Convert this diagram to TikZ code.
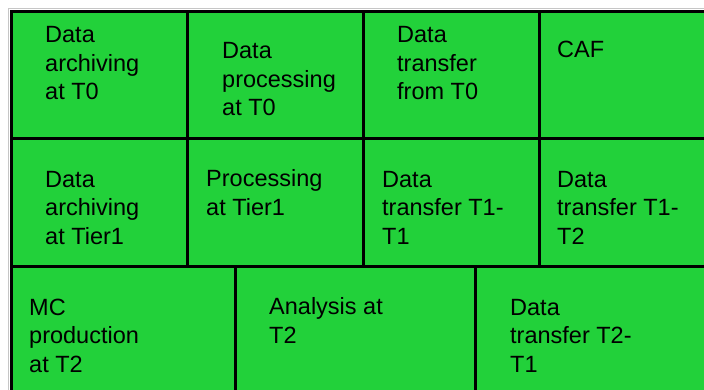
\documentclass[tikz,border=0pt]{standalone}
\usepackage{fontspec}
\setmainfont{Liberation Sans}
\definecolor{cellgreen}{RGB}{34,209,58}
\tikzset{
  cell/.style={rectangle,draw=black,line width=2.6pt,fill=cellgreen,anchor=north west,inner sep=0pt},
  txt/.style={font=\fontsize{23.5}{28.5}\selectfont,align=left,inner sep=0pt,anchor=base west}
}
\begin{document}
\begin{tikzpicture}[x=1pt,y=-1pt]
  \useasboundingbox (0,0) rectangle (704,390);
  \clip (0,0) rectangle (704,390);
  \draw[gray!45,line width=0.8pt] (8,400) -- (8,8) -- (710,8);
  % cells: name/x/y/width/height
  \foreach \n/\x/\y/\w/\h in {a1/10/10/176/127, a2/186/10/176/127, a3/362/10/176/127, a4/538/10/180/127,
                              b1/10/137/176/128, b2/186/137/176/128, b3/362/137/176/128, b4/538/137/180/128,
                              c1/10/265/224/140, c2/234/265/240/140, c3/474/265/244/140}
    \node[cell,minimum width=\w pt,minimum height=\h pt] (\n) at (\x,\y) {};
  % texts (placed at the baseline of their last line)
  \node[txt] (ta1) at (45,100) {Data\\archiving\\at T0};
  \node[txt] (ta2) at (222,116) {Data\\processing\\at T0};
  \node[txt] (ta3) at (397,100) {Data\\transfer\\from T0};
  \node[txt] (ta4) at (557,58) {CAF};
  \node[txt] (tb1) at (45,244) {Data\\archiving\\at Tier1};
  \node[txt] (tb2) at (206,215) {Processing\\at Tier1};
  \node[txt] (tb3) at (382,244) {Data\\transfer T1-\\T1};
  \node[txt] (tb4) at (557,244) {Data\\transfer T1-\\T2};
  \node[txt] (tc1) at (29,372) {MC\\production\\at T2};
  \node[txt] (tc2) at (269,343) {Analysis at\\T2};
  \node[txt] (tc3) at (510,372) {Data\\transfer T2-\\T1};
\end{tikzpicture}
\end{document}
